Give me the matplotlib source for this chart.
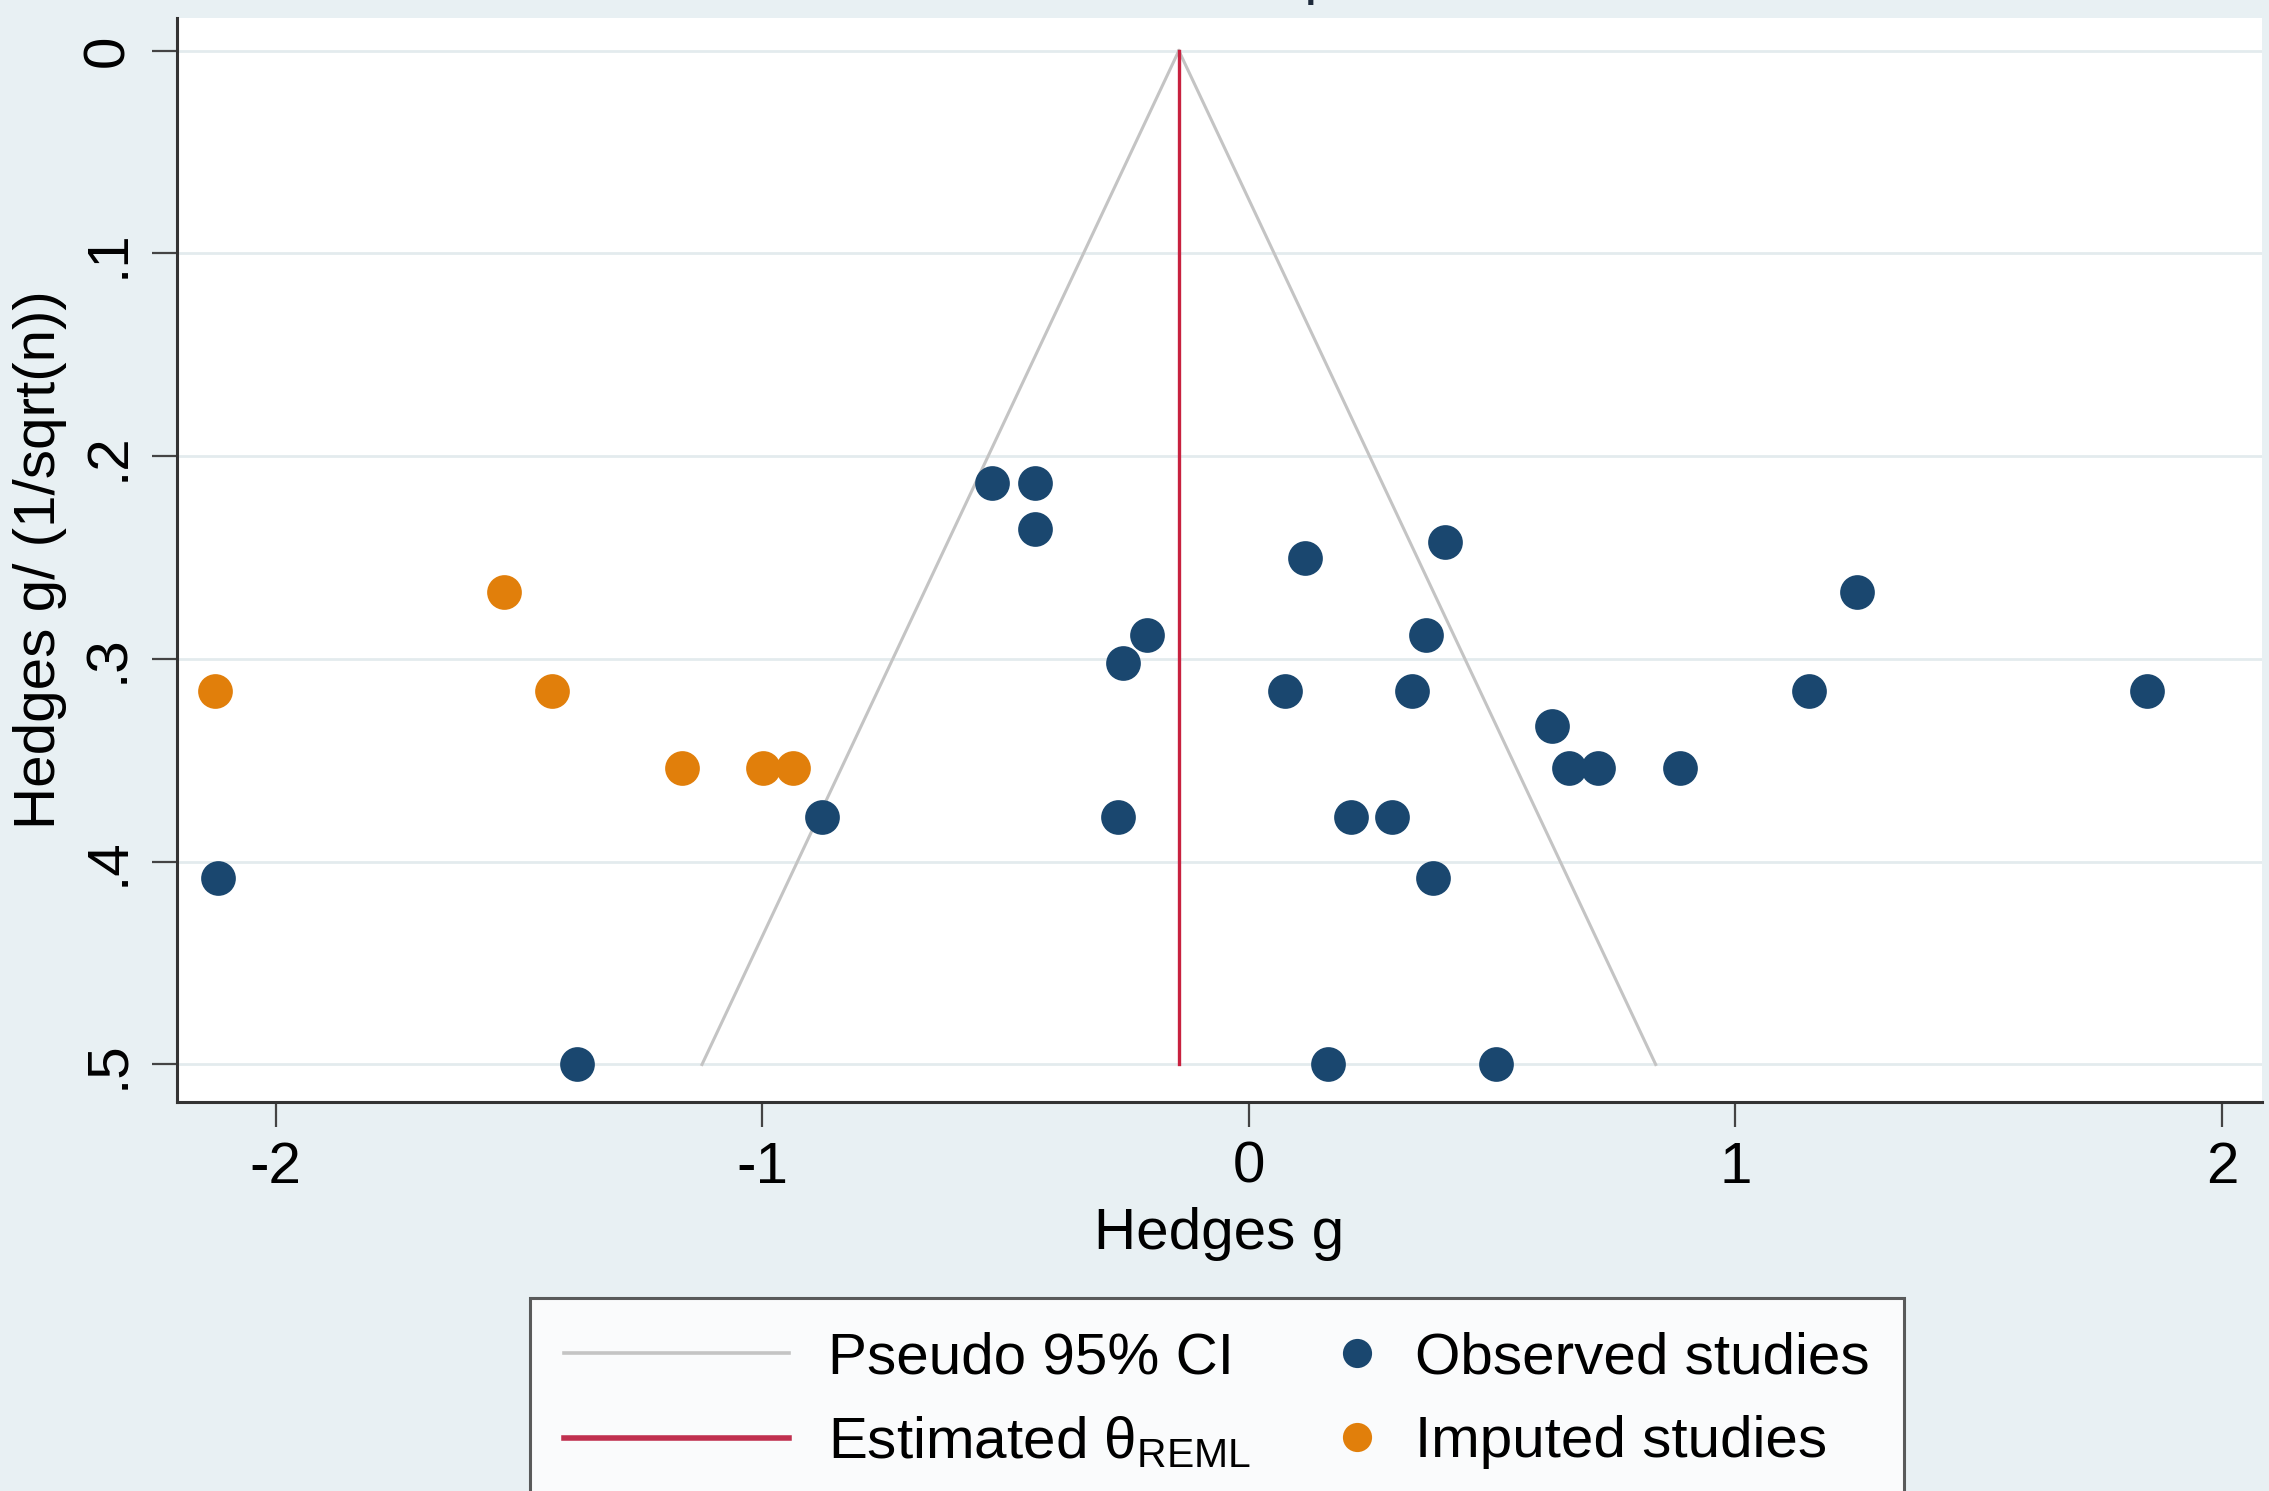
import matplotlib
matplotlib.use("Agg")
import matplotlib.pyplot as plt
from matplotlib.lines import Line2D
from matplotlib.legend_handler import HandlerLine2D

plt.rcParams['font.family'] = ['Liberation Sans', 'DejaVu Sans']
plt.rcParams['mathtext.fontset'] = 'custom'
plt.rcParams['mathtext.rm'] = 'Liberation Sans'

# observed studies (Hedges g, 1/sqrt(n))
obs_g = [-0.528, -0.440, -0.440, 0.115, 0.403, 1.249, -0.21, -0.259, 0.364,
         0.074, 0.335, 1.151, 1.845, 0.623, 0.658, 0.717, 0.886, -0.878,
         -0.269, 0.210, 0.294, -2.119, 0.378, -1.381, 0.162, 0.508]
obs_se = [0.213, 0.213, 0.236, 0.250, 0.2425, 0.267, 0.288, 0.302, 0.288,
          0.316, 0.316, 0.316, 0.316, 0.333, 0.354, 0.354, 0.354, 0.378,
          0.378, 0.378, 0.378, 0.408, 0.408, 0.500, 0.500, 0.500]

# imputed studies (trim and fill)
imp_g = [-1.531, -2.125, -1.432, -1.165, -0.999, -0.937]
imp_se = [0.267, 0.316, 0.316, 0.354, 0.354, 0.354]

# estimated theta and pseudo 95% CI limits
theta = -0.144
ci_se = [0.0, 0.5]
ci_lo = [-0.144, -1.124]
ci_hi = [-0.144, 0.836]

xticks = [-2, -1, 0, 1, 2]
xtick_labels = ['-2', '-1', '0', '1', '2']
yticks = [0, 0.1, 0.2, 0.3, 0.4, 0.5]
ytick_labels = ['0', '.1', '.2', '.3', '.4', '.5']

bg = '#e8f0f3'
navy = '#1a476f'
orange = '#e17f0b'
red = '#c8213f'
gray = '#c4c4c4'

fig = plt.figure(figsize=(22.69, 14.91), dpi=100, facecolor=bg)
ax = fig.add_axes([0.0780, 0.2609, 0.9189, 0.7270])
ax.set_facecolor('white')

for yv in yticks:
    ax.axhline(yv, color='#e3ebee', lw=2.0, zorder=0)

ax.plot(ci_lo, ci_se, color=gray, lw=2.2, zorder=1)
ax.plot(ci_hi, ci_se, color=gray, lw=2.2, zorder=1)
ax.plot([theta, theta], ci_se, color=red, lw=2.4, zorder=2)

ax.plot(obs_g, obs_se, 'o', color=navy, ms=25, mew=0, zorder=3)
ax.plot(imp_g, imp_se, 'o', color=orange, ms=25, mew=0, zorder=3)

ax.set_xlim(-2.203, 2.082)
ax.set_ylim(0.5185, -0.0161)

ax.set_xticks(xticks)
ax.set_xticklabels(xtick_labels, fontsize=42)
ax.set_yticks(yticks)
ax.set_yticklabels(ytick_labels, fontsize=42, rotation=90, va='center')
ax.tick_params(axis='both', direction='out', length=18, width=1.6, color='#444444')
ax.tick_params(axis='x', pad=10)
ax.tick_params(axis='y', pad=12)

for s in ['top', 'right']:
    ax.spines[s].set_visible(False)
for s in ['left', 'bottom']:
    ax.spines[s].set_linewidth(2.2)
    ax.spines[s].set_color('#333333')

ax.set_xlabel('Hedges g', fontsize=42)
ax.xaxis.set_label_coords(0.5, -0.122)
ax.xaxis.label.set_va('center')
ax.set_ylabel('Hedges g/ (1/sqrt(n))', fontsize=42)
ax.yaxis.set_label_coords(-0.0655, 0.5)
ax.yaxis.label.set_va('center')

# title mostly cut off at top of image
fig.text(0.4892, 1.0047, 'Funnel plot', fontsize=42, color='#1e2a3a',
         ha='left', va='baseline')


class ShortHandler(HandlerLine2D):
    def legend_artist(self, legend, orig_handle, fontsize, handlebox):
        handlebox.width = 28
        return super().legend_artist(legend, orig_handle, fontsize, handlebox)


h_ci = Line2D([], [], color=gray, lw=2.6)
h_theta = Line2D([], [], color='#c0304f', lw=4.0)
h_obs = Line2D([], [], ls='', marker='o', color=navy, ms=21, mew=0)
h_imp = Line2D([], [], ls='', marker='o', color=orange, ms=21, mew=0)

leg = fig.legend([h_ci, h_theta, h_obs, h_imp],
                 ['Pseudo 95% CI', r'Estimated θ$_{\mathrm{REML}}$',
                  'Observed studies', 'Imputed studies'],
                 ncol=2, loc='upper left', bbox_to_anchor=(0.2336, 0.1294),
                 borderaxespad=0, fontsize=42, frameon=True, fancybox=False,
                 handlelength=3.86, handletextpad=0.67, columnspacing=1.48,
                 labelspacing=0.5, borderpad=0.58,
                 handler_map={h_obs: ShortHandler(), h_imp: ShortHandler()})
leg.get_frame().set_edgecolor('#333333')
leg.get_frame().set_linewidth(2.2)
leg.get_frame().set_facecolor('white')

fig.savefig('out.png', dpi=100, facecolor=bg)
